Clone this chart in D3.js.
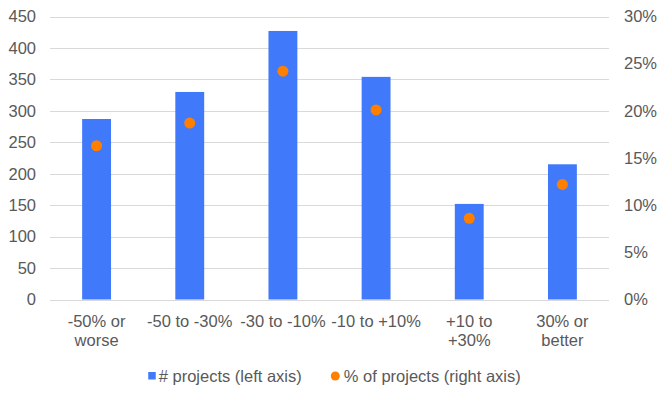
<!DOCTYPE html>
<html>
<head>
<meta charset="utf-8">
<script src="https://cdn.jsdelivr.net/npm/d3@7"></script>
<style>
  body { margin: 0; background: #fff; }
  svg text { font-family: "Liberation Sans", Arial, sans-serif; font-size: 16.5px; fill: #595959; }
</style>
</head>
<body>
<div id="chart"></div>
<script>
const categories = [["-50% or", "worse"], ["-50 to -30%"], ["-30 to -10%"], ["-10 to +10%"], ["+10 to", "+30%"], ["30% or", "better"]];
const projects = [287, 330, 427, 354, 152, 215];
const share = [0.163, 0.187, 0.242, 0.201, 0.086, 0.122];
const leftTicks = [0, 50, 100, 150, 200, 250, 300, 350, 400, 450];
const rightTicks = [0, 0.05, 0.1, 0.15, 0.2, 0.25, 0.3];
const legendLabels = ["# projects (left axis)", "% of projects (right axis)"];

const W = 664, H = 399;
const M = { left: 50, right: 55, top: 16.5, bottom: 99.5 };
const BLUE = "#4179fb", ORANGE = "#ff8000";

const svg = d3.select("#chart").append("svg").attr("width", W).attr("height", H);

const x = d3.scaleBand()
  .domain(d3.range(categories.length))
  .range([M.left, W - M.right])
  .paddingInner(0.69)
  .paddingOuter(0.345);
const y = d3.scaleLinear().domain([0, 450]).range([H - M.bottom, M.top]);
const y2 = d3.scaleLinear().domain([0, 0.3]).range([H - M.bottom, M.top]);

// gridlines
svg.append("g")
  .selectAll("line")
  .data(leftTicks)
  .join("line")
  .attr("x1", M.left)
  .attr("x2", W - M.right)
  .attr("y1", (d) => Math.round(y(d)) + 0.5)
  .attr("y2", (d) => Math.round(y(d)) + 0.5)
  .attr("stroke", "#d9d9d9")
  .attr("stroke-width", 1);

const left = svg.append("g")
  .attr("transform", `translate(${M.left - 14},0)`)
  .call(d3.axisLeft(y).tickValues(leftTicks).tickSize(0).tickPadding(0));
left.select(".domain").remove();

const right = svg.append("g")
  .attr("transform", `translate(${W - M.right + 15},0)`)
  .call(d3.axisRight(y2).tickValues(rightTicks).tickSize(0).tickPadding(0).tickFormat(d3.format(".0%")));
right.select(".domain").remove();

svg.selectAll(".tick text").attr("font-size", null).attr("font-family", null).attr("fill", null);

// bars
svg.append("g")
  .selectAll("rect")
  .data(projects)
  .join("rect")
  .attr("x", (d, i) => x(i))
  .attr("width", x.bandwidth())
  .attr("y", (d) => y(d))
  .attr("height", (d) => y(0) - y(d))
  .attr("fill", BLUE);

// dots
svg.append("g")
  .selectAll("circle")
  .data(share)
  .join("circle")
  .attr("cx", (d, i) => x(i) + x.bandwidth() / 2)
  .attr("cy", (d) => y2(d))
  .attr("r", 5.5)
  .attr("fill", ORANGE);

// category labels
const catLabels = svg.append("g")
  .selectAll("text")
  .data(categories)
  .join("text")
  .attr("text-anchor", "middle")
  .attr("x", (d, i) => x(i) + x.bandwidth() / 2)
  .attr("y", H - M.bottom + 27);
catLabels.selectAll("tspan")
  .data((d) => d)
  .join("tspan")
  .attr("x", function () { return this.parentNode.getAttribute("x"); })
  .attr("dy", (d, i) => (i === 0 ? 0 : 19))
  .text((d) => d);

// legend
const legend = svg.append("g");
const item1 = legend.append("g");
item1.append("rect").attr("x", 0).attr("y", -4).attr("width", 7.5).attr("height", 7.5).attr("fill", BLUE);
item1.append("text").attr("x", 10.5).attr("y", 5.5).text(legendLabels[0]);
const w1 = item1.node().getBBox().width;
const item2 = legend.append("g").attr("transform", `translate(${w1 + 29},0)`);
item2.append("circle").attr("cx", 4.5).attr("cy", 0).attr("r", 4.5).attr("fill", ORANGE);
item2.append("text").attr("x", 13).attr("y", 5.5).text(legendLabels[1]);
const total = legend.node().getBBox().width;
legend.attr("transform", `translate(${(146 + 523) / 2 - total / 2},376)`);
</script>
</body>
</html>
